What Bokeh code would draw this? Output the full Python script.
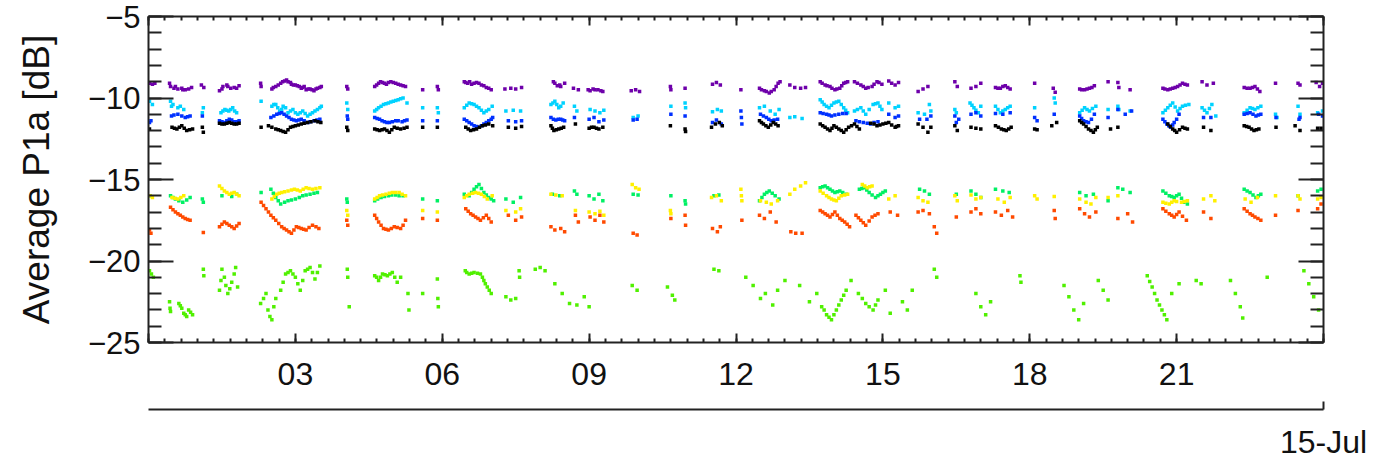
from bokeh.plotting import figure
from bokeh.models import LinearAxis, SingleIntervalTicker, FixedTicker
from bokeh.embed import file_html
from bokeh.resources import INLINE

# ---------------- data (hours of 15-Jul, dB) ----------------
purple = [(0.02,-9.1),(0.08,-9.15),(0.13,-9.1),(0.43,-9.1),(0.45,-9.3),(0.52,-9.4),(0.6,-9.45),(0.68,-9.4),(0.75,-9.5),(0.82,-9.45),(0.88,-9.35),
(1.08,-9.2),(1.13,-9.35),(1.45,-9.55),(1.52,-9.3),(1.6,-9.2),(1.68,-9.4),(1.75,-9.35),(1.85,-9.25),(2.29,-9.1),(2.3,-9.3),
(2.52,-9.45),(2.6,-9.3),(2.7,-9.1),(2.78,-8.95),(2.85,-9.0),(2.92,-9.15),(3.0,-9.2),(3.08,-9.3),(3.15,-9.35),(3.22,-9.5),(3.3,-9.45),(3.38,-9.55),(3.45,-9.4),(3.53,-9.3),
(4.05,-9.3),(4.07,-9.45),(4.62,-9.3),(4.7,-9.1),(4.78,-9.05),(4.86,-9.15),(4.95,-9.0),(5.05,-9.1),(5.15,-9.2),(5.25,-9.3),
(5.6,-9.5),(5.9,-9.3),(5.92,-9.5),(6.45,-9.0),(6.52,-9.1),(6.6,-9.15),(6.7,-9.05),(6.8,-9.2),(6.9,-9.35),(7.0,-9.5),
(7.28,-9.45),(7.4,-9.4),(7.5,-9.45),(7.62,-9.35),(8.27,-9.0),(8.35,-9.25),(8.42,-9.3),(8.5,-9.1),(8.68,-9.4),(8.78,-9.5),
(8.98,-9.5),(9.08,-9.45),(9.18,-9.5),(9.28,-9.6),(9.86,-9.55),(9.95,-9.5),(10.03,-9.6),(10.66,-9.3),(10.67,-9.5),(10.96,-9.4),
(11.52,-9.15),(11.6,-9.05),(11.68,-9.2),(12.1,-9.5),(12.48,-9.4),(12.58,-9.55),(12.68,-9.7),(12.78,-9.5),(12.86,-9.1),(12.9,-9.0),
(13.1,-9.2),(13.2,-9.35),(13.32,-9.4),(13.42,-9.35),(13.72,-9.0),(13.82,-9.2),(13.92,-9.3),(14.02,-9.5),(14.12,-9.4),(14.2,-9.1),(14.28,-9.0),
(14.42,-9.0),(14.55,-9.2),(14.65,-9.4),(14.78,-9.3),(14.88,-9.0),(14.98,-9.15),(15.12,-8.95),(15.25,-9.2),(15.32,-9.05),
(15.72,-9.6),(15.82,-9.45),(15.92,-9.3),(16.47,-9.0),(16.52,-9.3),(16.8,-9.4),(16.9,-9.3),(17.0,-9.1),
(17.3,-9.35),(17.4,-9.4),(17.5,-9.25),(17.6,-9.45),(18.1,-9.1),(18.48,-9.4),(18.52,-9.65),
(19.02,-9.45),(19.12,-9.5),(19.22,-9.4),(19.32,-9.25),(19.6,-9.0),(19.8,-9.05),(19.82,-9.35),(20.05,-9.5),
(20.72,-9.4),(20.82,-9.5),(20.92,-9.4),(21.02,-9.3),(21.12,-9.1),(21.22,-9.2),(21.52,-9.0),(21.62,-9.2),(21.75,-9.1),
(22.38,-9.35),(22.5,-9.4),(22.6,-9.3),(22.7,-9.6),(23.02,-9.1),(23.48,-9.1),(23.52,-9.2),(23.85,-9.05),(23.92,-9.3),(23.98,-9.1)]
purple += [(0.55,-9.3),(0.7,-9.5),(1.5,-9.45),(1.62,-9.3),(1.8,-9.4),(2.55,-9.35),(2.65,-9.2),(2.74,-9.0),(2.82,-8.9),(2.9,-9.05),(2.96,-9.2),(3.04,-9.25),(3.12,-9.4),(3.18,-9.3),(3.26,-9.45),(3.34,-9.5),(3.42,-9.45),(3.5,-9.35),
(4.66,-9.2),(4.74,-9.0),(4.82,-9.1),(4.9,-9.05),(5.0,-9.05),(5.1,-9.15),(5.2,-9.25),(6.48,-9.05),(6.56,-9.0),(6.65,-9.1),(6.75,-9.1),(6.85,-9.25),(6.95,-9.4),
(8.3,-9.1),(8.4,-9.2),(9.02,-9.55),(9.12,-9.5),(9.24,-9.55),(12.52,-9.5),(12.62,-9.6),(12.72,-9.6),(12.82,-9.3),(13.76,-9.1),(13.86,-9.25),(13.96,-9.4),(14.06,-9.45),(14.16,-9.25),(14.24,-9.05),
(14.48,-9.1),(14.6,-9.3),(14.7,-9.35),(14.82,-9.15),(14.92,-9.05),(15.18,-9.1),(17.35,-9.4),(17.45,-9.3),(17.55,-9.35),(19.06,-9.5),(19.17,-9.45),(19.27,-9.35),
(20.76,-9.45),(20.87,-9.45),(20.97,-9.35),(21.07,-9.2),(21.17,-9.15),(22.44,-9.4),(22.55,-9.35),(22.65,-9.45)]

cyan = [(0.02,-10.2),(0.08,-10.4),(0.45,-10.2),(0.47,-10.5),(0.65,-10.5),(0.72,-10.7),(1.1,-10.9),(1.12,-10.6),
(1.48,-10.9),(1.56,-10.7),(1.64,-10.8),(1.72,-10.6),(1.8,-10.9),(2.3,-10.2),(2.52,-10.5),(2.6,-10.4),(2.68,-10.8),(2.75,-10.5),(2.85,-10.9),(2.95,-10.7),(3.05,-11.0),(3.15,-10.8),(3.25,-11.1),(3.35,-10.9),(3.45,-10.7),(3.53,-10.5),
(4.05,-10.3),(4.07,-10.7),(4.62,-10.8),(4.7,-10.6),(4.8,-10.4),(4.9,-10.3),(5.0,-10.2),(5.1,-10.1),(5.2,-10.0),(5.28,-10.3),
(5.6,-10.6),(5.9,-10.6),(5.92,-10.9),(6.45,-10.6),(6.55,-10.3),(6.65,-10.4),(6.75,-10.6),(6.85,-10.9),(6.95,-10.7),(7.02,-10.5),
(7.3,-10.8),(7.45,-10.75),(7.6,-10.8),(8.22,-10.4),(8.3,-10.2),(8.38,-10.6),(8.47,-10.3),(8.7,-10.5),(8.75,-10.8),
(9.02,-10.7),(9.12,-10.8),(9.22,-10.9),(9.3,-10.75),(9.9,-11.2),(10.0,-11.1),(10.67,-10.5),(10.96,-10.3),(10.97,-10.6),
(11.52,-10.85),(11.62,-10.7),(11.7,-10.8),(12.48,-10.6),(12.58,-10.5),(12.7,-10.8),(12.8,-11.0),(12.88,-10.7),
(13.1,-11.2),(13.2,-11.15),(13.35,-11.25),(13.72,-10.1),(13.8,-10.4),(13.9,-10.6),(14.0,-10.3),(14.1,-10.2),(14.2,-10.6),(14.28,-10.9),
(14.42,-10.8),(14.55,-10.6),(14.65,-11.0),(14.8,-10.4),(14.9,-10.3),(14.98,-10.7),(15.12,-10.3),(15.25,-10.6),(15.32,-10.5),
(15.72,-10.9),(15.85,-11.0),(15.95,-10.4),(15.98,-10.8),(16.47,-10.7),(16.5,-10.9),(16.78,-10.3),(16.86,-10.6),(16.95,-10.9),(17.0,-10.5),
(17.3,-10.5),(17.4,-10.9),(17.5,-10.7),(17.6,-10.5),(18.1,-10.6),(18.5,-10.0),(18.52,-10.3),
(19.02,-10.9),(19.12,-10.6),(19.22,-10.8),(19.35,-10.5),(19.6,-10.7),(19.8,-10.5),(19.82,-10.7),(20.05,-10.8),
(20.72,-10.9),(20.82,-10.6),(20.92,-10.3),(21.02,-10.8),(21.12,-10.5),(21.25,-10.4),(21.52,-10.6),(21.62,-10.9),(21.72,-10.4),(21.8,-11.1),
(22.38,-10.9),(22.5,-10.6),(22.6,-10.7),(22.72,-10.5),(23.02,-11.0),(23.05,-11.2),(23.48,-10.5),(23.52,-11.0),(23.88,-10.9),(23.98,-10.8)]
cyan += [(0.5,-10.4),(0.6,-10.6),(1.52,-10.8),(1.6,-10.75),(1.68,-10.7),(1.76,-10.8),(2.56,-10.4),(2.64,-10.6),(2.72,-10.7),(2.8,-10.6),(2.9,-10.8),(3.0,-10.9),(3.1,-10.9),(3.2,-10.95),(3.3,-11.0),(3.4,-10.8),(3.5,-10.6),
(4.66,-10.7),(4.75,-10.5),(4.85,-10.35),(4.95,-10.25),(5.05,-10.15),(5.15,-10.05),(6.5,-10.45),(6.6,-10.35),(6.7,-10.5),(6.8,-10.75),(6.9,-10.8),(8.26,-10.3),(8.34,-10.4),(8.42,-10.5),
(13.76,-10.25),(13.85,-10.5),(13.95,-10.45),(14.05,-10.25),(14.15,-10.4),(14.24,-10.75),(14.48,-10.7),(14.6,-10.8),(14.72,-10.7),(14.85,-10.35),(14.94,-10.5),
(16.82,-10.45),(16.9,-10.75),(17.35,-10.7),(17.45,-10.8),(17.55,-10.6),(19.07,-10.75),(19.17,-10.7),(19.28,-10.65),
(20.77,-10.75),(20.87,-10.45),(20.97,-10.55),(21.07,-10.65),(21.18,-10.45),(21.57,-10.75),(21.67,-10.65),(22.44,-10.75),(22.55,-10.65),(22.66,-10.6)]

blue = [(0.02,-11.5),(0.05,-11.4),(0.47,-11.1),(0.6,-11.0),(0.75,-11.2),(0.85,-11.1),(1.1,-11.1),
(1.45,-11.4),(1.55,-11.5),(1.65,-11.3),(1.75,-11.45),(1.85,-11.4),
(2.5,-11.2),(2.62,-11.0),(2.72,-10.9),(2.82,-11.1),(2.92,-11.3),(3.02,-11.4),(3.12,-11.3),(3.25,-11.5),(3.38,-11.4),(3.5,-11.3),
(4.06,-11.1),(4.07,-11.3),(4.62,-11.2),(4.72,-11.3),(4.82,-11.45),(4.92,-11.5),(5.05,-11.4),(5.18,-11.45),(5.28,-11.35),
(5.6,-11.4),(5.9,-11.4),(6.45,-11.3),(6.55,-11.5),(6.65,-11.7),(6.75,-11.8),(6.85,-11.6),(6.95,-11.4),(7.03,-11.2),
(7.35,-11.4),(7.5,-11.45),(7.62,-11.4),(8.22,-11.2),(8.32,-11.35),(8.42,-11.3),(8.5,-11.4),
(8.7,-11.2),(9.0,-11.3),(9.1,-11.2),(9.2,-11.45),(9.3,-11.35),(9.9,-11.35),(9.98,-11.3),(10.67,-11.0),(10.96,-11.1),
(11.52,-11.5),(11.6,-11.35),(11.7,-11.6),(12.1,-10.8),(12.11,-11.2),(12.12,-11.6),
(12.5,-11.0),(12.62,-11.2),(12.72,-11.4),(12.85,-11.3),(13.72,-10.9),(13.85,-11.0),(13.95,-11.1),(14.1,-11.0),(14.25,-10.95),
(14.45,-11.4),(14.6,-11.5),(14.75,-11.6),(14.9,-11.45),(15.12,-11.0),(15.25,-11.2),(15.32,-11.1),
(15.75,-11.3),(15.9,-11.3),(15.98,-11.1),(16.47,-11.1),(16.5,-11.5),(16.55,-11.3),(16.8,-11.0),(16.9,-10.9),(17.0,-11.1),
(17.3,-10.95),(17.45,-11.0),(17.6,-10.9),(18.1,-11.2),(18.15,-11.4),(18.5,-11.0),
(19.02,-11.1),(19.1,-11.4),(19.2,-11.5),(19.32,-11.0),(19.6,-11.2),(19.8,-10.7),(19.95,-11.0),(20.08,-10.8),
(20.72,-11.3),(20.8,-11.6),(20.88,-11.8),(20.95,-11.5),(21.05,-11.0),(21.55,-11.2),(21.7,-11.2),
(22.38,-11.0),(22.5,-10.9),(22.62,-11.1),(22.72,-11.0),(23.03,-11.2),(23.5,-11.3),(23.52,-11.2),(23.9,-11.0),(23.98,-11.1)]
blue += [(0.52,-11.05),(0.68,-11.1),(0.8,-11.15),(1.5,-11.45),(1.6,-11.4),(1.7,-11.35),(1.8,-11.45),(2.56,-11.1),(2.67,-10.95),(2.77,-11.0),(2.87,-11.2),(2.97,-11.35),(3.07,-11.35),(3.18,-11.4),(3.3,-11.45),(3.44,-11.35),
(4.67,-11.25),(4.77,-11.4),(4.87,-11.5),(4.98,-11.45),(5.1,-11.4),(5.23,-11.4),(6.5,-11.4),(6.6,-11.6),(6.7,-11.75),(6.8,-11.7),(6.9,-11.5),(7.0,-11.3),(8.27,-11.3),(8.37,-11.3),(8.46,-11.35),
(12.56,-11.1),(12.67,-11.3),(12.78,-11.35),(13.78,-10.95),(13.9,-11.05),(14.02,-11.05),(14.18,-10.95),(14.52,-11.45),(14.68,-11.55),(14.82,-11.5),
(19.06,-11.25),(19.15,-11.45),(19.26,-11.3),(20.76,-11.45),(20.84,-11.7),(20.92,-11.65),(21.0,-11.3),(22.44,-10.95),(22.56,-11.0),(22.67,-11.05)]

black = [(0.02,-11.9),(0.48,-11.8),(0.58,-11.9),(0.68,-11.7),(0.78,-12.0),(0.9,-11.9),(1.1,-11.8),(1.12,-12.1),
(1.45,-11.55),(1.55,-11.6),(1.65,-11.5),(1.75,-11.6),(1.85,-11.55),
(2.3,-11.8),(2.45,-11.7),(2.6,-11.9),(2.7,-12.0),(2.8,-12.1),(2.9,-11.8),(3.0,-11.7),(3.12,-11.6),(3.25,-11.5),(3.4,-11.4),(3.52,-11.5),
(4.05,-11.8),(4.07,-12.0),(4.62,-11.9),(4.72,-12.0),(4.82,-11.9),(4.92,-12.1),(5.02,-11.8),(5.15,-11.9),(5.28,-11.8),
(5.6,-11.8),(5.9,-11.8),(6.48,-11.8),(6.58,-12.0),(6.7,-11.9),(6.82,-11.7),(6.95,-11.6),(7.03,-11.7),
(7.35,-11.8),(7.5,-11.85),(7.62,-11.75),(8.22,-11.7),(8.28,-12.0),(8.38,-11.9),(8.48,-11.8),
(8.72,-11.6),(9.0,-11.85),(9.1,-11.8),(9.2,-11.9),(9.28,-11.8),(10.66,-11.7),(10.96,-11.9),(10.97,-12.05),
(11.5,-11.8),(11.58,-11.6),(11.66,-11.5),(11.72,-11.7),(12.48,-11.4),(12.56,-11.6),(12.66,-11.8),(12.76,-11.5),(12.86,-11.7),
(13.72,-11.6),(13.82,-11.8),(13.92,-12.0),(14.0,-11.7),(14.1,-11.9),(14.2,-12.1),(14.3,-11.8),(14.42,-11.6),(14.52,-11.9),
(14.75,-11.55),(14.88,-11.7),(15.0,-11.6),(15.12,-11.5),(15.25,-11.8),(15.32,-11.7),
(15.72,-11.6),(15.82,-11.8),(15.92,-12.1),(15.98,-11.8),(16.47,-11.7),(16.52,-12.0),(16.8,-11.8),(16.9,-11.85),(17.0,-11.9),
(17.3,-11.7),(17.42,-11.9),(17.52,-12.0),(17.62,-11.8),(18.1,-11.9),(18.15,-11.95),(18.45,-11.7),(18.55,-11.5),
(19.02,-11.4),(19.1,-11.6),(19.2,-11.9),(19.3,-12.1),(19.38,-11.8),(19.65,-11.9),(19.8,-11.8),
(20.82,-11.6),(20.92,-11.9),(21.0,-12.1),(21.12,-11.8),(21.22,-11.9),(21.55,-11.8),(21.7,-12.0),
(22.38,-11.7),(22.48,-11.8),(22.58,-12.0),(22.68,-11.9),(23.03,-11.8),(23.42,-11.7),(23.52,-12.0),(23.88,-11.85),(23.95,-11.85)]
black += [(0.53,-11.85),(0.63,-11.8),(0.73,-11.85),(0.84,-11.95),(1.5,-11.6),(1.6,-11.55),(1.7,-11.55),(1.8,-11.6),(2.52,-11.8),(2.65,-11.95),(2.75,-12.05),(2.85,-11.95),(2.95,-11.75),(3.06,-11.65),(3.18,-11.55),(3.32,-11.45),(3.46,-11.45),
(4.67,-11.95),(4.77,-11.95),(4.87,-12.0),(4.97,-11.95),(5.08,-11.85),(5.22,-11.85),(6.53,-11.9),(6.64,-11.95),(6.76,-11.8),(6.88,-11.65),(8.25,-11.85),(8.33,-11.95),(8.43,-11.85),(9.05,-11.8),(9.15,-11.85),
(12.52,-11.5),(12.61,-11.7),(12.71,-11.65),(12.81,-11.6),(13.77,-11.7),(13.87,-11.9),(13.96,-11.85),(14.05,-11.8),(14.15,-12.0),(14.25,-11.95),(14.36,-11.7),(14.47,-11.75),
(14.82,-11.6),(14.94,-11.65),(15.06,-11.55),(15.18,-11.65),(15.28,-11.75),(17.36,-11.8),(17.47,-11.95),(17.57,-11.9),(19.06,-11.5),(19.15,-11.75),(19.25,-12.0),(19.34,-11.95),
(20.87,-11.75),(20.96,-12.0),(21.06,-11.95),(21.17,-11.85),(22.43,-11.75),(22.53,-11.9),(22.63,-11.95)]

yellow = [(0.03,-16.0),(0.08,-16.1),(0.48,-16.1),(0.6,-16.2),(0.72,-16.0),
(1.45,-15.4),(1.55,-15.7),(1.65,-15.9),(1.75,-15.8),(1.85,-16.0),
(2.52,-16.2),(2.62,-15.9),(2.72,-15.8),(2.85,-15.7),(2.98,-15.6),(3.1,-15.7),(3.22,-15.5),(3.35,-15.6),(3.5,-15.5),
(4.05,-16.9),(4.07,-17.2),(4.62,-16.2),(4.72,-16.0),(4.85,-15.9),(4.98,-15.8),(5.12,-15.8),(5.25,-16.0),
(5.6,-16.9),(5.9,-17.0),(6.45,-16.1),(6.55,-15.9),(6.68,-15.8),(6.8,-15.9),(6.92,-16.2),(7.02,-16.0),
(7.3,-16.9),(7.5,-17.0),(7.6,-16.8),(8.22,-15.9),(8.32,-15.95),(8.45,-16.0),
(8.72,-16.9),(9.0,-17.0),(9.12,-17.1),(9.22,-16.95),(9.3,-17.2),(9.88,-15.3),(9.95,-15.5),(10.02,-15.6),
(10.66,-16.9),(10.67,-17.1),(11.5,-16.1),(11.6,-16.0),(11.7,-16.3),(12.1,-15.6),(12.11,-16.0),(12.12,-16.3),
(12.5,-16.3),(12.62,-16.4),(12.72,-16.5),(12.85,-16.3),(13.1,-15.9),(13.2,-15.6),(13.32,-15.4),(13.42,-15.2),
(13.72,-15.7),(13.85,-16.0),(13.95,-16.2),(14.05,-16.3),(14.15,-16.0),(14.28,-15.9),(14.58,-15.3),(14.68,-15.5),(14.78,-15.4),
(15.12,-16.2),(15.25,-16.0),(15.72,-16.1),(15.82,-16.3),(15.92,-16.4),(16.47,-16.0),(16.52,-16.3),
(16.8,-15.95),(16.9,-16.2),(17.0,-16.1),(17.35,-16.2),(17.48,-16.4),(17.6,-16.1),(18.1,-16.0),(18.15,-16.2),(18.5,-16.05),
(19.02,-16.2),(19.15,-16.4),(19.25,-16.5),(19.35,-16.1),(19.6,-16.1),(19.8,-16.0),
(20.72,-16.4),(20.85,-16.5),(20.95,-16.3),(21.1,-16.4),(21.22,-16.3),(21.55,-16.2),(21.7,-16.0),(21.78,-16.3),
(22.4,-16.2),(22.52,-16.4),(22.65,-16.1),(23.02,-16.0),(23.48,-16.0),(23.52,-16.2),(23.88,-16.2),(23.95,-16.1)]
yellow += [(0.54,-16.15),(0.66,-16.1),(1.5,-15.55),(1.6,-15.8),(1.7,-15.85),(1.8,-15.9),(2.57,-16.05),(2.67,-15.85),(2.78,-15.75),(2.92,-15.65),(3.04,-15.65),(3.16,-15.6),(3.28,-15.55),(3.42,-15.55),
(4.67,-16.1),(4.78,-15.95),(4.92,-15.85),(5.05,-15.8),(5.18,-15.9),(6.5,-16.0),(6.62,-15.85),(6.74,-15.85),(6.86,-16.05),
(13.78,-15.85),(13.9,-16.1),(14.0,-16.25),(14.1,-16.15),(14.22,-15.95),(14.63,-15.4),(14.73,-15.45),(20.78,-16.45),(20.9,-16.4),(21.0,-16.35),(21.16,-16.35)]

green = [(0.03,-16.0),(0.45,-16.0),(0.55,-16.2),(0.7,-16.4),(0.85,-16.1),(1.1,-16.2),(1.12,-16.4),
(1.5,-16.0),(1.7,-16.05),(1.8,-15.9),(2.3,-15.8),(2.5,-15.6),(2.6,-16.1),(2.7,-16.5),(2.85,-16.3),(3.0,-16.2),(3.15,-16.0),(3.3,-15.9),(3.45,-15.8),
(4.05,-16.2),(4.06,-16.4),(4.62,-16.3),(4.75,-16.1),(4.9,-16.0),(5.05,-15.95),(5.2,-16.0),(5.6,-16.2),(5.9,-16.3),
(6.45,-15.9),(6.55,-16.0),(6.65,-15.6),(6.75,-15.3),(6.85,-15.8),(6.95,-16.1),(7.05,-16.3),(7.3,-16.2),(7.45,-16.4),(7.6,-16.1),
(8.25,-15.9),(8.4,-16.0),(8.7,-15.7),(8.75,-15.9),(9.0,-16.0),(9.1,-16.2),(9.2,-15.9),(9.28,-16.3),(9.9,-15.9),(10.0,-15.95),
(10.67,-16.0),(10.96,-16.3),(10.97,-16.5),(11.55,-16.0),(11.65,-15.95),
(12.48,-16.3),(12.58,-15.9),(12.68,-15.7),(12.8,-16.0),(12.88,-16.2),
(13.72,-15.5),(13.82,-15.4),(13.92,-15.6),(14.02,-15.8),(14.12,-15.7),(14.25,-15.9),
(14.52,-15.6),(14.62,-15.5),(14.72,-15.8),(14.85,-16.1),(14.95,-15.9),(15.05,-15.7),(15.75,-15.6),(15.85,-15.7),(15.95,-15.9),
(16.5,-15.9),(16.8,-15.7),(16.9,-15.9),(17.0,-16.1),(17.3,-15.6),(17.45,-15.7),(17.58,-15.8),
(19.02,-15.8),(19.15,-16.0),(19.3,-15.9),(19.6,-16.3),(19.8,-15.5),(19.9,-15.6),(20.05,-15.8),
(20.72,-15.7),(20.85,-16.0),(20.95,-16.1),(21.05,-15.9),(21.15,-16.4),(21.22,-16.5),
(22.38,-15.6),(22.5,-15.8),(22.62,-16.1),(22.72,-15.9),(23.48,-16.0),(23.88,-15.7),(23.95,-15.6)]
green += [(0.5,-16.1),(0.62,-16.3),(0.78,-16.25),(2.55,-15.85),(2.65,-16.3),(2.78,-16.4),(2.92,-16.25),(3.08,-16.1),(3.22,-15.95),(3.38,-15.85),
(4.68,-16.2),(4.82,-16.05),(4.97,-15.95),(5.12,-16.0),(6.6,-15.8),(6.7,-15.45),(6.8,-15.55),(6.9,-15.95),(7.0,-16.2),(12.53,-16.1),(12.63,-15.8),(12.74,-15.85),
(13.77,-15.45),(13.87,-15.5),(13.97,-15.7),(14.07,-15.75),(14.18,-15.8),(14.57,-15.55),(14.67,-15.65),(14.78,-15.95),(14.9,-16.0),(15.0,-15.8),
(20.78,-15.85),(20.9,-16.05),(21.0,-16.0),(21.1,-16.15),(22.44,-15.7),(22.56,-15.95),(22.67,-16.0)]

orange = [(0.02,-18.1),(0.05,-18.3),(0.45,-16.7),(0.55,-17.0),(0.65,-17.2),(0.75,-17.4),(0.85,-17.5),(1.12,-18.25),
(1.45,-17.9),(1.55,-17.6),(1.65,-17.8),(1.75,-18.0),(1.85,-17.7),(2.3,-16.4),(2.4,-16.8),(2.5,-17.2),(2.6,-17.5),
(2.72,-17.9),(2.82,-18.1),(2.92,-18.3),(3.02,-17.9),(3.12,-18.0),(3.22,-18.1),(3.35,-17.8),(3.48,-18.0),
(4.05,-17.5),(4.07,-17.8),(4.62,-17.2),(4.7,-17.6),(4.8,-18.0),(4.9,-18.1),(5.02,-17.9),(5.15,-18.0),(5.25,-17.5),
(5.6,-17.4),(5.9,-17.5),(6.48,-16.8),(6.58,-17.1),(6.68,-17.3),(6.78,-17.5),(6.9,-17.2),(7.0,-17.6),
(7.35,-17.2),(7.5,-17.5),(7.62,-17.3),(8.22,-17.9),(8.3,-18.1),(8.42,-18.0),(8.5,-18.2),(8.72,-17.2),(8.78,-17.6),
(9.02,-17.3),(9.12,-17.5),(9.22,-17.2),(9.3,-17.6),(9.9,-18.3),(9.98,-18.4),(10.67,-17.4),(10.96,-17.2),(10.97,-17.8),
(11.52,-18.0),(11.62,-18.2),(11.68,-17.9),(12.12,-17.5),(12.48,-17.2),(12.58,-17.4),(12.7,-17.0),(12.82,-17.6),
(13.12,-18.2),(13.22,-18.3),(13.35,-18.3),(13.72,-16.9),(13.82,-17.1),(13.92,-17.3),(14.02,-17.0),(14.12,-17.4),(14.22,-17.6),(14.32,-17.9),
(14.45,-17.2),(14.55,-17.5),(14.65,-17.8),(14.78,-17.3),(14.9,-17.1),(15.15,-17.0),(15.3,-17.2),
(15.72,-17.0),(15.82,-16.9),(15.95,-17.1),(16.05,-17.9),(16.1,-18.3),(16.5,-17.3),(16.8,-17.0),(16.9,-16.8),(17.0,-17.1),
(17.3,-17.0),(17.42,-17.2),(17.55,-16.9),(17.65,-17.3),(18.5,-16.9),(18.52,-17.4),
(19.02,-16.8),(19.12,-17.1),(19.22,-17.3),(19.35,-17.0),(19.8,-17.4),(20.0,-17.1),(20.1,-17.6),
(20.72,-16.8),(20.85,-17.1),(20.95,-17.3),(21.05,-17.0),(21.2,-17.5),(21.55,-17.0),(21.7,-17.4),
(22.38,-16.8),(22.5,-17.1),(22.6,-17.3),(22.72,-17.5),(23.02,-17.2),(23.48,-16.9),(23.88,-16.8),(23.95,-16.5)]
orange += [(0.5,-16.85),(0.6,-17.1),(0.7,-17.3),(0.8,-17.45),(1.5,-17.75),(1.6,-17.7),(1.7,-17.9),(1.8,-17.85),(2.35,-16.6),(2.45,-17.0),(2.55,-17.35),(2.66,-17.7),(2.77,-18.0),(2.87,-18.2),(2.97,-18.1),(3.07,-17.95),(3.17,-18.05),(3.28,-17.95),(3.42,-17.9),
(4.66,-17.4),(4.75,-17.8),(4.85,-18.05),(4.96,-18.0),(5.08,-17.95),(5.2,-17.8),(6.53,-16.95),(6.63,-17.2),(6.73,-17.4),(6.84,-17.35),(6.95,-17.4),
(13.77,-17.0),(13.87,-17.2),(13.97,-17.15),(14.07,-17.2),(14.17,-17.5),(14.27,-17.75),(14.5,-17.35),(14.6,-17.65),(14.72,-17.55),(14.84,-17.2),
(20.78,-16.95),(20.9,-17.2),(21.0,-17.15),(21.12,-17.25),(22.44,-16.95),(22.55,-17.2),(22.66,-17.4)]

lime = [(0.02,-20.6),(0.06,-20.8),(0.1,-21.0),(0.43,-22.5),(0.44,-22.9),(0.45,-23.1),
(0.62,-22.6),(0.68,-22.9),(0.72,-23.2),(0.78,-23.4),(0.82,-23.0),(0.9,-23.3),(1.12,-20.5),(1.13,-20.9),
(1.45,-21.8),(1.5,-20.5),(1.55,-21.0),(1.62,-22.0),(1.7,-21.3),(1.78,-20.4),(1.82,-21.6),
(2.29,-22.6),(2.4,-22.0),(2.48,-23.4),(2.52,-23.6),(2.6,-22.3),
(2.7,-21.8),(2.8,-20.8),(2.9,-20.6),(3.0,-21.0),(3.1,-21.8),(3.2,-20.6),(3.3,-20.4),(3.4,-21.1),(3.5,-20.3),
(4.06,-20.5),(4.07,-21.0),(4.1,-22.8),(4.62,-20.9),(4.7,-21.2),(4.78,-20.8),(4.88,-20.9),(4.98,-20.7),(5.08,-21.3),(5.15,-21.0),
(5.3,-22.0),(5.32,-23.0),(5.6,-22.0),(5.9,-21.1),(5.91,-22.3),(5.92,-22.8),
(6.47,-20.6),(6.55,-20.8),(6.65,-20.7),(6.78,-20.8),(6.85,-21.2),(6.92,-21.6),(7.0,-22.0),
(7.3,-22.2),(7.4,-22.4),(7.5,-22.3),(7.57,-20.6),(7.58,-21.0),(7.9,-20.5),(8.0,-20.4),(8.1,-20.6),
(8.3,-21.4),(8.45,-22.0),(8.6,-22.6),(8.75,-22.7),(8.9,-22.2),(9.0,-22.8),(9.88,-21.5),(9.98,-21.8),
(10.6,-21.6),(10.7,-22.1),(10.75,-22.4),(11.55,-20.5),(11.65,-20.6),
(12.2,-21.0),(12.35,-21.5),(12.5,-22.3),(12.6,-22.0),(12.75,-22.7),(12.85,-21.8),(13.0,-21.2),
(13.3,-21.5),(13.5,-22.5),(13.65,-22.0),(13.75,-22.8),(13.85,-23.3),(13.95,-23.6),(14.05,-23.0),(14.15,-22.4),(14.25,-21.8),
(14.35,-21.2),(14.5,-22.0),(14.65,-22.6),(14.8,-23.0),(14.9,-22.4),(15.05,-21.8),(15.15,-23.2),
(15.4,-22.5),(15.5,-23.0),(15.6,-21.8),(16.05,-20.5),(16.1,-21.0),
(16.9,-22.0),(17.0,-22.8),(17.1,-23.3),(17.2,-22.5),(17.8,-20.9),(17.82,-21.3),
(18.7,-21.5),(18.8,-22.2),(18.9,-23.0),(19.0,-23.6),(19.1,-22.6),(19.4,-21.2),(19.5,-21.8),(19.6,-22.4),
(20.4,-20.9),(20.5,-21.6),(20.6,-22.4),(20.7,-23.0),(20.8,-23.6),(20.9,-22.0),(21.05,-21.4),(21.4,-21.2),(21.5,-21.4),
(22.1,-21.2),(22.2,-22.0),(22.3,-22.8),(22.35,-23.5),(22.85,-21.0),(23.6,-20.6),(23.7,-21.4),(23.8,-22.2),(23.9,-23.0)]
lime += [(0.65,-22.75),(0.75,-23.3),(0.86,-23.15),(1.48,-21.2),(1.58,-21.5),(1.66,-21.7),(1.75,-20.8),(2.35,-22.3),(2.44,-23.0),(2.56,-22.8),(2.75,-21.3),(2.85,-20.7),(2.95,-20.8),(3.05,-21.4),(3.15,-21.2),(3.25,-20.5),(3.35,-20.7),(3.45,-20.7),
(4.66,-21.0),(4.74,-21.0),(4.83,-20.85),(4.93,-20.8),(5.03,-21.0),(6.5,-20.7),(6.6,-20.75),(6.72,-20.75),(6.82,-21.0),(6.88,-21.4),(6.96,-21.8),
(13.8,-23.0),(13.9,-23.45),(14.0,-23.3),(14.1,-22.7),(14.2,-22.1),(14.58,-22.3),(14.72,-22.8),(14.85,-22.7),(20.45,-21.25),(20.55,-22.0),(20.65,-22.7),(20.75,-23.3)]

series = [
    (purple, "#6E00AA"),
    (cyan, "#00D2FF"),
    (blue, "#0030FF"),
    (black, "#000000"),
    (orange, "#FF4A00"),
    (green, "#00F064"),
    (yellow, "#FFF000"),
    (lime, "#50F000"),
]

x_tick_values = [3, 6, 9, 12, 15, 18, 21]
x_tick_labels = ["03", "06", "09", "12", "15", "18", "21"]
date_label = "15-Jul"
y_label = "Average P1a [dB]"

FONT = "Liberation Sans"
AX = "#222222"

p = figure(frame_width=1175, frame_height=326, x_range=(0, 24), y_range=(-25, -5),
           output_backend="svg", toolbar_location=None, x_axis_location=None, y_axis_location=None,
           min_border_left=148, min_border_top=16, min_border_right=55, min_border_bottom=104,
           background_fill_color="white", border_fill_color="white")
p.outline_line_color = None
p.xgrid.visible = False
p.ygrid.visible = False

for pts, col in series:
    t = [a for a, b in pts]
    v = [b for a, b in pts]
    p.scatter(t, v, marker="square", size=3.5, fill_color=col, line_color=None)

def style(ax, tin, mtin, label_size):
    ax.axis_line_color = AX
    ax.axis_line_width = 2
    ax.major_tick_line_color = AX
    ax.major_tick_line_width = 2
    ax.minor_tick_line_color = AX
    ax.minor_tick_line_width = 2
    ax.major_tick_in = tin
    ax.major_tick_out = 0
    ax.minor_tick_in = mtin
    ax.minor_tick_out = 0
    ax.major_label_text_font = FONT
    ax.major_label_text_font_size = label_size
    ax.major_label_text_color = "#111111"

yt = SingleIntervalTicker(interval=5, num_minor_ticks=5)
xt = SingleIntervalTicker(interval=3, num_minor_ticks=9)

left = LinearAxis(ticker=yt)
style(left, 25, 13, "31px")
left.major_label_standoff = 8
left.axis_label = y_label
left.axis_label_text_font = FONT
left.axis_label_text_font_size = "37px"
left.axis_label_text_font_style = "normal"
left.axis_label_text_color = "#111111"
left.axis_label_standoff = 28
p.add_layout(left, "left")

right = LinearAxis(ticker=yt)
style(right, 25, 13, "0px")
right.major_label_standoff = 0
right.major_label_text_color = None
p.add_layout(right, "right")

bottom = LinearAxis(ticker=xt)
style(bottom, 9, 4, "32px")
bottom.major_label_standoff = 20
bottom.major_label_overrides = {0: "", 24: "", **{v: s for v, s in zip(x_tick_values, x_tick_labels)}}
bottom.axis_label = "\u00a0"
bottom.axis_label_text_font_size = "8px"
bottom.axis_label_standoff = 10
p.add_layout(bottom, "below")

top = LinearAxis(ticker=xt)
style(top, 9, 4, "0px")
top.major_label_standoff = 0
top.major_label_text_color = None
p.add_layout(top, "above")

date_axis = LinearAxis(ticker=FixedTicker(ticks=[24]))
style(date_axis, 8, 0, "32px")
date_axis.major_label_overrides = {24: date_label}
date_axis.major_label_standoff = 14
p.add_layout(date_axis, "below")

open("out.html", "w").write(file_html(p, INLINE))
